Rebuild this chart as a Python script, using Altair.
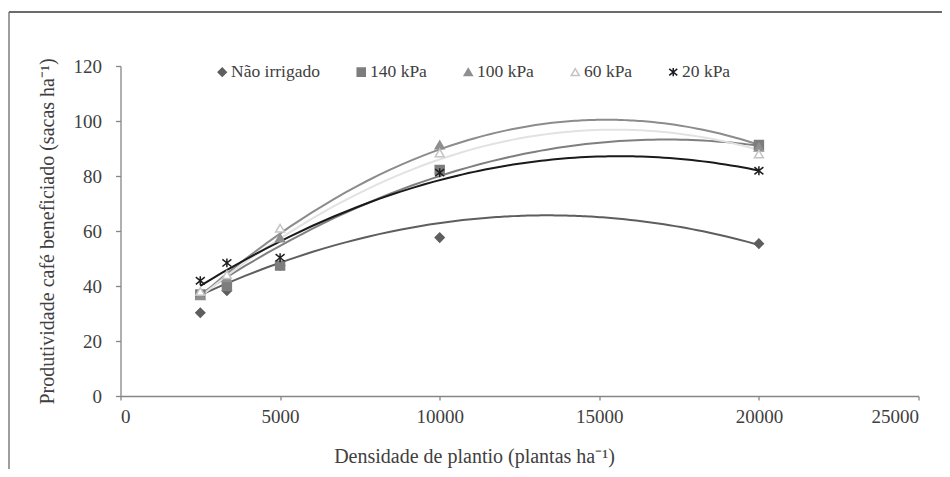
import altair as alt
import pandas as pd

# ---- data ----
series = ["Não irrigado", "140 kPa", "100 kPa", "60 kPa", "20 kPa"]

density = [2500, 3333, 5000, 10000, 20000]
yield_nao = [30.3, 38.3, 47.5, 57.6, 55.4]
yield_140 = [36.9, 40.0, 47.4, 82.2, 91.3]
yield_100 = [36.5, 43.0, 57.5, 91.3, 90.5]
yield_60 = [38.0, 44.1, 61.0, 88.4, 88.0]
yield_20 = [41.9, 48.4, 50.3, 81.2, 81.9]

# trend-line readings (values of each fitted curve read at these densities)
curve_x = [2500, 5000, 7500, 10000, 12500, 15000, 17500, 20000]
curve_nao = [36.9, 48.0, 57.4, 63.0, 65.6, 65.0, 61.4, 55.0]
curve_140 = [37.0, 54.6, 69.0, 80.0, 87.7, 92.1, 93.2, 91.0]
curve_100 = [36.5, 58.9, 76.8, 89.7, 97.6, 100.5, 98.4, 91.3]
curve_60 = [36.0, 57.5, 74.0, 86.0, 93.6, 96.7, 95.4, 89.5]
curve_20 = [40.0, 56.3, 69.1, 78.5, 84.5, 87.1, 86.2, 82.0]

# ---- tables ----
point_vals = [yield_nao, yield_140, yield_100, yield_60, yield_20]
curve_vals = [curve_nao, curve_140, curve_100, curve_60, curve_20]

points = pd.DataFrame(
    [{"series": s, "x": x, "y": y} for s, ys in zip(series, point_vals) for x, y in zip(density, ys)]
)
curves = pd.DataFrame(
    [{"series": s, "x": x, "y": y} for s, ys in zip(series, curve_vals) for x, y in zip(curve_x, ys)]
)

asterisk = "M-1,-0.8L1,0.8M-1,0.8L1,-0.8M0,-1L0,1"

marker_stroke = ["#5e5e5e", "#7d7d7d", "#8f8f8f", "#c4c4c4", "#1e1e1e"]
marker_fill = ["#5e5e5e", "#7d7d7d", "#8f8f8f", "#ffffff", "#1e1e1e"]
marker_shape = ["diamond", "square", "triangle-up", "triangle-up", asterisk]
line_colors = ["#5e5e5e", "#7f7f7f", "#8c8c8c", "#e2e2e2", "#1a1a1a"]

FONT = "Liberation Serif"
TXT = "#404040"
AX = "#868686"

x_enc = alt.X(
    "x:Q",
    scale=alt.Scale(domain=[0, 25000], nice=False),
    axis=alt.Axis(
        values=[0, 5000, 10000, 15000, 20000, 25000],
        format="d",
        grid=False,
        tickSize=4,
        labelPadding=7,
        title="Densidade de plantio (plantas ha⁻¹)",
        titleFontSize=20,
        titleX=353.5,
        titleY=66,
        titleAlign="center",
        titleBaseline="alphabetic",
    ),
)
y_enc = alt.Y(
    "y:Q",
    scale=alt.Scale(domain=[0, 120], nice=False),
    axis=alt.Axis(
        values=[0, 20, 40, 60, 80, 100, 120],
        grid=False,
        tickSize=5,
        labelPadding=14,
        title="Produtividade café beneficiado (sacas ha⁻¹)",
        titlePadding=16,
        titleFontSize=20,
    ),
)

# the line colour scale lists the series in reverse so that it stays separate
# from the marker legend (a legend-less scale with an identical domain would
# otherwise switch the merged legend off)
lines = (
    alt.Chart(curves)
    .transform_regression("x", "y", groupby=["series"], method="poly", order=2)
    .mark_line(strokeWidth=2)
    .encode(
        x=x_enc,
        y=y_enc,
        color=alt.Color(
            "series:N",
            scale=alt.Scale(domain=series[::-1], range=line_colors[::-1]),
            legend=None,
        ),
        detail="series:N",
    )
)

legend = alt.Legend(
    title=None,
    orient="none",
    direction="horizontal",
    legendX=93,
    legendY=-3,
    padding=0,
    labelFont=FONT,
    labelFontSize=17.5,
    labelColor=TXT,
    labelOffset=0,
    columnPadding=32,
    symbolSize=65,
    symbolStrokeWidth=1.5,
)

pts = (
    alt.Chart(points)
    .mark_point(filled=False, size=80, opacity=1, strokeWidth=1.5)
    .encode(
        x="x:Q",
        y="y:Q",
        shape=alt.Shape("series:N", scale=alt.Scale(domain=series, range=marker_shape), legend=legend),
        stroke=alt.Stroke("series:N", scale=alt.Scale(domain=series, range=marker_stroke), legend=legend),
        fill=alt.Fill("series:N", scale=alt.Scale(domain=series, range=marker_fill), legend=legend),
    )
)

one = pd.DataFrame({"k": [0]})
top_border = alt.Chart(one).mark_rule(color="#3a3a3a", strokeWidth=1.3).encode(
    x=alt.value(-111.5), x2=alt.value(830), y=alt.value(-54), y2=alt.value(-54)
)
left_border = alt.Chart(one).mark_rule(color="#6a6a6a", strokeWidth=1.3).encode(
    x=alt.value(-111.5), x2=alt.value(-111.5), y=alt.value(-54), y2=alt.value(410)
)

chart = (
    alt.layer(top_border, left_border, lines, pts)
    .properties(
        width=798,
        height=330,
        autosize=alt.AutoSizeParams(type="none"),
        padding={"left": 112.5, "top": 58, "right": 23.5, "bottom": 73},
        background="white",
    )
    .configure(font=FONT)
    .configure_view(stroke=None)
    .configure_axis(
        domainColor=AX,
        tickColor=AX,
        domainWidth=1.3,
        tickWidth=1.3,
        labelFont=FONT,
        labelFontSize=19,
        labelColor=TXT,
        titleFont=FONT,
        titleFontWeight="normal",
        titleColor=TXT,
    )
    .configure_legend(labelFont=FONT, labelFontSize=17.5, labelColor=TXT)
)

chart.save("out.html", embed_options={"renderer": "svg", "actions": False})
